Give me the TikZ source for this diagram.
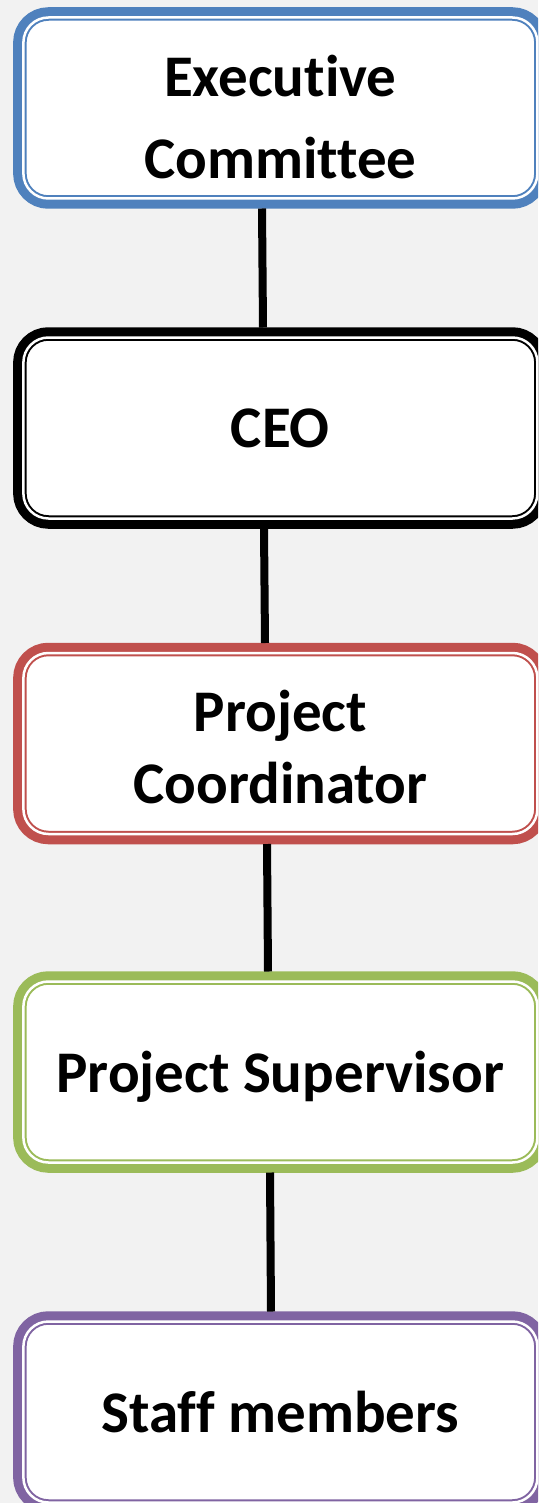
\documentclass[tikz,border=0pt]{standalone}
\usepackage{fontspec}
\setmainfont{Carlito}[Ligatures=NoCommon]
\definecolor{bggray}{HTML}{F2F2F2}
\definecolor{execblue}{HTML}{4F81BD}
\definecolor{coordred}{HTML}{C0504D}
\definecolor{supgreen}{HTML}{9BBB59}
\definecolor{staffpurple}{HTML}{8064A2}
\tikzset{
  orgbox/.style={rounded corners=25pt, minimum width=514pt, minimum height=181pt,
    inner sep=0pt, outer sep=10pt, fill=white, draw=#1, line width=2pt,
    double=white, double distance=2.5pt, preaction={draw=#1, line width=20.5pt},
    align=center, font=\bfseries\fontsize{59}{72}\selectfont},
  link/.style={line width=8pt, black}
}
\begin{document}
\begin{tikzpicture}[x=1pt,y=-1pt]
    \path[use as bounding box, fill=bggray] (0,0) rectangle (538,1503);
    \clip (0,0) rectangle (538,1503);
    % Boxes
    \node[orgbox=execblue, text height=141pt] (exec) at (280.4,108) {Executive\\[10pt]Committee};
    \node[orgbox=black] (ceo) at (280.4,428) {CEO};
    \node[orgbox=coordred, text height=121pt] (coord) at (280.4,743.5) {Project\\Coordinator};
    \node[orgbox=supgreen, text depth=0pt] (super) at (280.4,1072) {Project Supervisor};
    \node[orgbox=staffpurple] (staff) at (280.4,1412) {Staff members};
    % Links
    \draw[link] ([xshift=-18.4pt]exec.south) -- ([xshift=-17.4pt]ceo.north);
    \draw[link] ([xshift=-16.4pt]ceo.south) -- ([xshift=-15.4pt]coord.north);
    \draw[link] ([xshift=-13.4pt]coord.south) -- ([xshift=-12.4pt]super.north);
    \draw[link] ([xshift=-10.4pt]super.south) -- ([xshift=-9.4pt]staff.north);
\end{tikzpicture}
\end{document}
